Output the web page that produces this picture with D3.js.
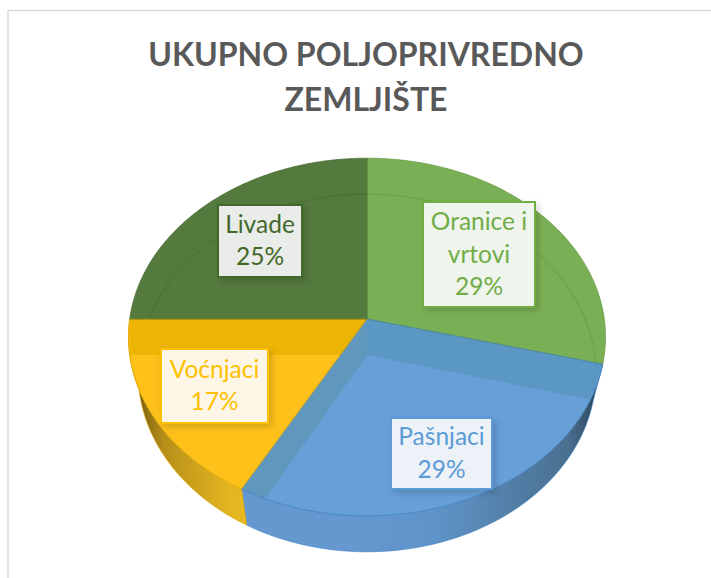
<!DOCTYPE html>
<html>
<head>
<meta charset="utf-8">
<style>
body { margin: 0; background-color: #ffffff; }
svg { display: block; }
.title { font-family: Lato, "Open Sans", sans-serif; font-weight: 700; font-size: 32px; fill: #595959; text-anchor: middle; }
.label { font-family: Lato, "Open Sans", sans-serif; font-size: 24.5px; text-anchor: middle; }
</style>
<script src="https://d3js.org/d3.v7.min.js"></script>
</head>
<body>
<script>
// data
var categories = ["Oranice i vrtovi", "Pašnjaci", "Voćnjaci", "Livade"];
var labelLines = [["Oranice i", "vrtovi"], ["Pašnjaci"], ["Voćnjaci"], ["Livade"]];
var values = [29, 29, 17, 25];
var titleLines = ["UKUPNO POLJOPRIVREDNO", "ZEMLJIŠTE"];

// colours, one per slice
var faceColors = ["#7ab055", "#679fd7", "#fec119", "#557a3e"];
var edgeColors = ["#64973f", "#3f80c4", "#e0a800", "#466a30"];
var ringColors = ["#64973f", null, null, "#466a30"];
var textColors = ["#70ad47", "#5b9bd5", "#ffc000", "#43682b"];
var boxFills = ["#eff4ec", "#edf2f9", "#fdf6e7", "#e9ece8"];
var wallStops = [null, ["#6498cf", "#5f94c9", "#49708f", "#26384c"], ["#66500c", "#b8901a", "#e3b41f", "#e6b820"], null];

// band along the start edge of a slice, seen through the face it falls on
var bandColors = [null, "#5b97c5", "#6097bd", "#ecb404"];
var bandFace = [null, 1, 1, 2];

// label boxes x, y, w, h
var boxes = [[423, 202, 112, 105], [391, 418, 101, 71], [161, 349, 107, 74], [218, 205, 84, 72]];

var width = 711, height = 578;
var cx = 367, cy = 319, depth = 36;
var R = 237.3, flat = 177, persp = 0.1006, bottomScale = 0.96;

var svg = d3.select("body").append("svg")
  .attr("width", width)
  .attr("height", height);

var defs = svg.append("defs");

var shadow = defs.append("filter").attr("id", "shadow")
  .attr("x", "-20%").attr("y", "-20%").attr("width", "150%").attr("height", "150%");
shadow.append("feDropShadow")
  .attr("dx", 3).attr("dy", 3).attr("stdDeviation", 3)
  .attr("flood-color", "#000").attr("flood-opacity", 0.16);

// frame of the chart area, runs off the right and bottom of the picture
svg.append("rect")
  .attr("x", 8).attr("y", 10.5)
  .attr("width", 800).attr("height", 700)
  .attr("fill", "#fff").attr("stroke", "#d9d9d9").attr("stroke-width", 1.5);

svg.selectAll(".title").data(titleLines).enter().append("text")
  .attr("class", "title")
  .attr("x", 366)
  .attr("y", function(d, i) { return 66 + i * 45; })
  .text(function(d) { return d; });

// perspective view of the pie, a is clockwise from the top
function topRim(a) {
  var w = 1 + persp * Math.cos(a);
  return [cx + R * Math.sin(a) / w, cy - flat * Math.cos(a) / w];
}
function bottomRim(a) {
  var p = topRim(a);
  return [cx + (p[0] - cx) * bottomScale, p[1] + depth];
}
function arcPoints(rim, a0, a1) {
  var n = Math.ceil(Math.abs(a1 - a0) / 0.02);
  return d3.range(n + 1).map(function(i) { return rim(a0 + (a1 - a0) * i / n); });
}

var line = d3.line();
var pie = d3.pie().sort(null).startAngle(0).endAngle(2 * Math.PI);
var slices = pie(values);
var centreTop = [cx, cy], centreBottom = [cx, cy + depth];

function facePoints(d) {
  return [centreTop].concat(arcPoints(topRim, d.startAngle, d.endAngle));
}

slices.forEach(function(d, i) {
  defs.append("clipPath").attr("id", "clip" + i)
    .append("path").attr("d", line(facePoints(d)) + "Z");
  if (wallStops[i]) {
    var g = defs.append("linearGradient").attr("id", "wall" + i)
      .attr("gradientUnits", "userSpaceOnUse")
      .attr("x1", i == 1 ? 360 : 130).attr("x2", i == 1 ? 605 : 245)
      .attr("y1", 0).attr("y2", 0);
    wallStops[i].forEach(function(c, k) {
      g.append("stop").attr("offset", [0, 0.3, 0.85, 1][k]).attr("stop-color", c);
    });
  }
});

// side wall, only the front slices show it
svg.append("g").selectAll("path")
  .data(slices.filter(function(d) { return wallStops[d.index]; }))
  .enter().append("path")
  .attr("d", function(d) {
    return line(arcPoints(topRim, d.startAngle, d.endAngle)
      .concat(arcPoints(bottomRim, d.endAngle, d.startAngle))) + "Z";
  })
  .attr("fill", function(d) { return "url(#wall" + d.index + ")"; })
  .attr("stroke", function(d) { return edgeColors[d.index]; })
  .attr("stroke-opacity", 0.6)
  .attr("stroke-width", 1);

// top faces
svg.append("g").selectAll("path")
  .data(slices).enter().append("path")
  .attr("d", function(d) { return line(facePoints(d)) + "Z"; })
  .attr("fill", function(d) { return faceColors[d.index]; });

// the wall seen through the faces
slices.forEach(function(d, i) {
  if (!bandColors[i]) return;
  var t = topRim(d.startAngle), b = bottomRim(d.startAngle);
  svg.append("path")
    .attr("clip-path", "url(#clip" + bandFace[i] + ")")
    .attr("d", line([centreTop, t, [t[0], b[1]], b, centreBottom]) + "Z")
    .attr("fill", bandColors[i]);
});

// faint far rim seen through the back faces
slices.forEach(function(d, i) {
  if (!ringColors[i]) return;
  svg.append("path")
    .attr("clip-path", "url(#clip" + i + ")")
    .attr("d", line(arcPoints(bottomRim, 0, 2 * Math.PI)) + "Z")
    .attr("fill", "none")
    .attr("stroke", ringColors[i])
    .attr("stroke-opacity", 0.7)
    .attr("stroke-width", 1);
});

// face outlines
svg.append("g").selectAll("path")
  .data(slices).enter().append("path")
  .attr("d", function(d) { return line(facePoints(d)) + "Z"; })
  .attr("fill", "none")
  .attr("stroke", function(d) { return edgeColors[d.index]; })
  .attr("stroke-opacity", 0.7)
  .attr("stroke-width", 1);

// labels
var label = svg.append("g").selectAll("g")
  .data(slices).enter().append("g");

label.append("rect")
  .attr("x", function(d) { return boxes[d.index][0]; })
  .attr("y", function(d) { return boxes[d.index][1]; })
  .attr("width", function(d) { return boxes[d.index][2]; })
  .attr("height", function(d) { return boxes[d.index][3]; })
  .attr("fill", function(d) { return boxFills[d.index]; })
  .attr("stroke", function(d) { return textColors[d.index]; })
  .attr("stroke-width", 2)
  .attr("filter", "url(#shadow)");

label.each(function(d) {
  var lines = labelLines[d.index].concat([d.value + "%"]);
  var box = boxes[d.index];
  var top = box[1] + box[3] / 2 - (lines.length - 1) * 32.5 / 2 + 8;
  d3.select(this).selectAll("text").data(lines).enter().append("text")
    .attr("class", "label")
    .attr("x", box[0] + box[2] / 2)
    .attr("y", function(t, k) { return top + k * 32.5; })
    .attr("fill", textColors[d.index])
    .text(function(t) { return t; });
});
</script>
</body>
</html>
